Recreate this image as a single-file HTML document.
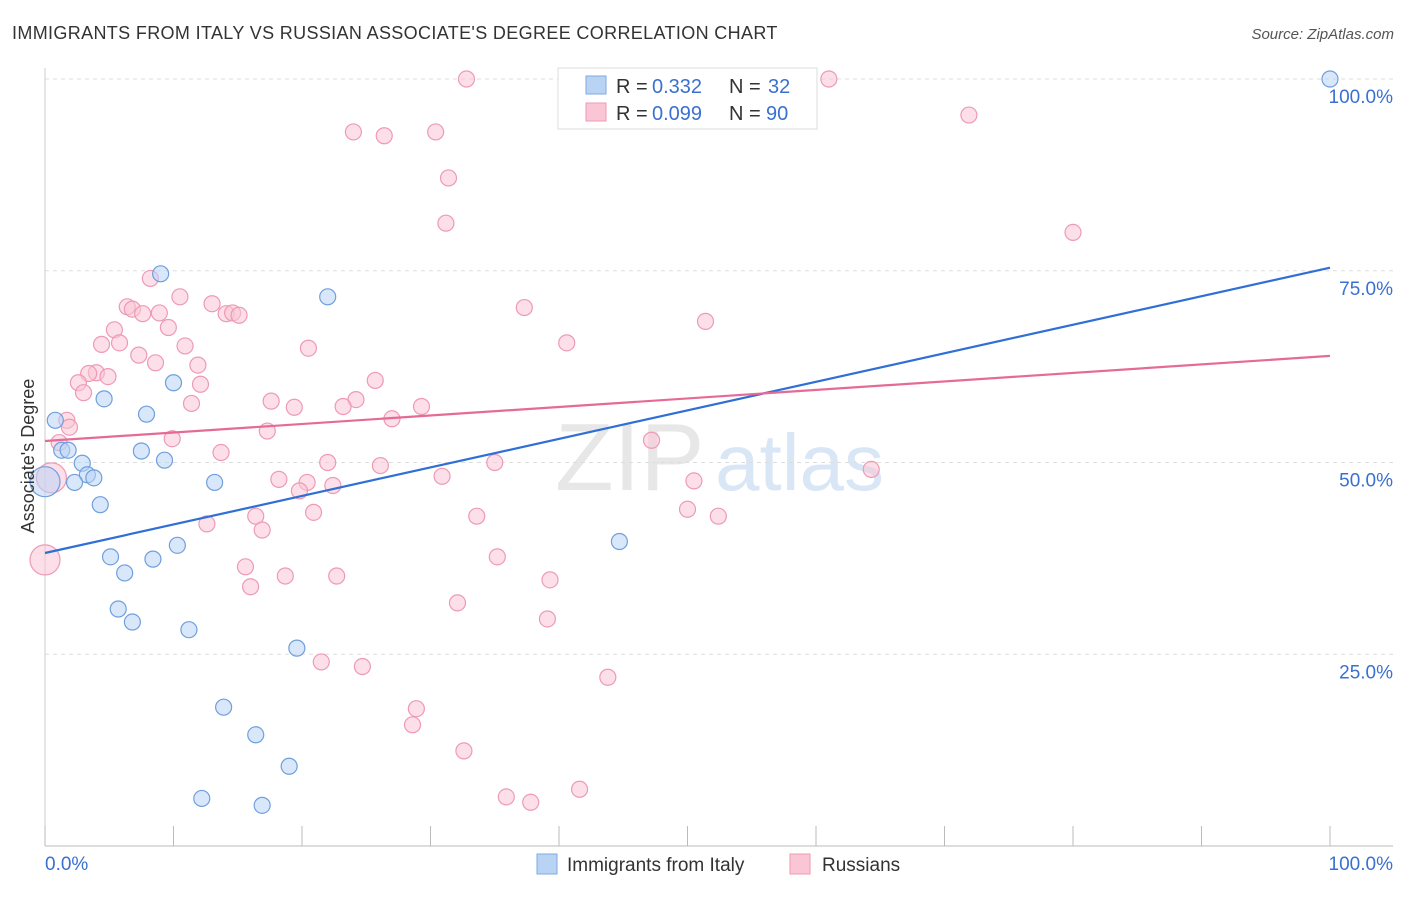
<!DOCTYPE html>
<html><head><meta charset="utf-8"><style>
body{margin:0;background:#fff;font-family:"Liberation Sans",sans-serif}
svg text{font-family:"Liberation Sans",sans-serif}
</style></head><body>
<svg id="chart" width="1406" height="892" viewBox="0 0 1406 892" xmlns="http://www.w3.org/2000/svg">
<text x="12" y="39" font-size="18" fill="#333" letter-spacing="0.35">IMMIGRANTS FROM ITALY VS RUSSIAN ASSOCIATE'S DEGREE CORRELATION CHART</text>
<text x="1394" y="39" font-size="15" fill="#555" text-anchor="end" font-style="italic">Source: ZipAtlas.com</text>
<g>
<text x="555" y="490" font-size="96" fill="#ddd" font-family="Liberation Serif" opacity="0.7">ZIP</text>
<text x="715" y="490" font-size="80" fill="#c9dcf3" opacity="0.7">atlas</text>
</g>
<g id="grid"></g>
<g id="axes"></g>
<g id="marks"></g>
<g>
<rect x="558" y="68" width="259" height="61" fill="#fff" stroke="#ddd"/>
<rect x="586" y="76" width="20" height="18" fill="#b9d3f5" stroke="#7fa9e0"/>
<rect x="586" y="103" width="20" height="18" fill="#fac5d5" stroke="#ee9ab5"/>
<text x="616" y="93" font-size="20" fill="#333">R =</text>
<text x="652" y="93" font-size="20" fill="#3a70d0">0.332</text>
<text x="729" y="93" font-size="20" fill="#333">N =</text>
<text x="768" y="93" font-size="20" fill="#3a70d0">32</text>
<text x="616" y="120" font-size="20" fill="#333">R =</text>
<text x="652" y="120" font-size="20" fill="#3a70d0">0.099</text>
<text x="729" y="120" font-size="20" fill="#333">N =</text>
<text x="766" y="120" font-size="20" fill="#3a70d0">90</text>
</g>
<g>
<rect x="537" y="854" width="20" height="20" fill="#b9d3f5" stroke="#7fa9e0"/>
<text x="567" y="871" font-size="19" fill="#333">Immigrants from Italy</text>
<rect x="790" y="854" width="20" height="20" fill="#fac5d5" stroke="#ee9ab5"/>
<text x="822" y="871" font-size="19" fill="#333">Russians</text>
</g>
<text transform="translate(34,456) rotate(-90)" font-size="18" fill="#333" text-anchor="middle">Associate's Degree</text>
</svg>
<script>
const yTicks=[25,50,75,100];
const yTickLabels=["25.0%","50.0%","75.0%","100.0%"];
const blueX=[0.8,1.3,1.8,2.9,3.3,3.8,2.3,4.3,4.6,7.9,9.0,10.0,7.5,9.3,13.2,5.1,6.2,8.4,10.3,5.7,6.8,11.2,13.9,16.4,19.6,19.0,12.2,16.9,22.0,44.7,100,0];
const blueY=[55.5,51.6,51.6,49.9,48.4,48.0,47.4,44.5,58.3,56.3,74.6,60.4,51.5,50.3,47.4,37.7,35.6,37.4,39.2,30.9,29.2,28.2,18.1,14.5,25.8,10.4,6.2,5.3,71.6,39.7,100,47.5];
const pinkX=[32.8,59.3,61.0,24.0,26.4,30.4,71.9,31.4,31.2,80.0,8.2,10.5,13.0,6.4,6.8,7.6,8.9,14.1,14.6,15.1,9.6,5.4,5.8,4.4,10.9,20.5,37.3,51.4,40.6,7.3,8.6,11.9,4.0,4.9,3.4,2.6,3.0,12.1,25.7,24.2,17.6,19.4,11.4,23.2,29.3,27.0,17.3,1.7,1.9,9.9,1.1,13.7,47.2,22.0,26.1,35.0,64.3,30.9,18.2,20.4,22.4,19.8,50.5,0.5,50.0,52.4,20.9,33.6,16.4,12.6,16.9,35.2,0,15.6,18.7,22.7,16.0,39.3,32.1,39.1,43.8,21.5,24.7,28.9,28.6,32.6,35.9,37.8,41.6];
const pinkY=[100,100,100,93.1,92.6,93.1,95.3,87.1,81.2,80.0,74.0,71.6,70.7,70.3,70.0,69.4,69.5,69.4,69.5,69.2,67.6,67.3,65.6,65.4,65.2,64.9,70.2,68.4,65.6,64.0,63.0,62.7,61.7,61.2,61.6,60.4,59.1,60.2,60.7,58.2,58.0,57.2,57.7,57.3,57.3,55.7,54.1,55.5,54.6,53.1,52.6,51.3,52.9,50.0,49.6,50.0,49.1,48.2,47.8,47.4,47.0,46.3,47.6,48.0,43.9,43.0,43.5,43.0,43.0,42.0,41.2,37.7,37.3,36.4,35.2,35.2,33.8,34.7,31.7,29.6,22.0,24.0,23.4,17.9,15.8,12.4,6.4,5.7,7.4];
const blueTrend=[38.2,75.4];
const pinkTrend=[52.8,63.9];
const X=v=>45+v*12.85, Y=v=>846-v*7.67;
const NS="http://www.w3.org/2000/svg";
function mk(tag,attrs,parent){const e=document.createElementNS(NS,tag);for(const k in attrs)e.setAttribute(k,attrs[k]);parent.appendChild(e);return e;}
const grid=document.getElementById('grid'),axes=document.getElementById('axes'),marks=document.getElementById('marks');
yTicks.forEach((t,i)=>{
 const l=mk('line',{x1:45,x2:1393,y1:Y(t),y2:Y(t),stroke:'#ddd','stroke-dasharray':'4,4'},grid);
 
 
 const tx=mk('text',{x:1393,y:Y(t)+24,'font-size':19,fill:'#3a70d0','text-anchor':'end'},axes);
 tx.textContent=yTickLabels[i];
 
 
});
const ax=mk('line',{x1:45,x2:1393,y1:846,y2:846,stroke:'#bbb'},axes);


const ay=mk('line',{x1:45,x2:45,y1:68,y2:846,stroke:'#ccc'},axes);


for(let i=0;i<=10;i++){const t=mk('line',{x1:X(i*10),x2:X(i*10),y1:826,y2:846,stroke:'#bbb'},axes);
 
 }
[["0.0%",45,"start"],["100.0%",1393,"end"]].forEach(a=>{const t=mk('text',{x:a[1],y:870,'font-size':19,fill:'#3a70d0','text-anchor':a[2]},axes);t.textContent=a[0];
 
 });
function pts(xs,ys,fill,stroke,name){xs.forEach((x,i)=>{const big=(x===0||x===0.5);
 const c=mk('circle',{cx:X(x),cy:Y(ys[i]),r:big?15:8,fill:fill,'fill-opacity':0.55,stroke:stroke,'stroke-width':1.2},marks);
 
 });}
pts(pinkX,pinkY,'#fac5d5','#ee9ab5','russians-point');
pts(blueX,blueY,'#b9d3f5','#6f9fdc','italy-point');
const bl=mk('line',{x1:X(0),y1:Y(blueTrend[0]),x2:X(100),y2:Y(blueTrend[1]),stroke:'#2f6fd6','stroke-width':2.2},marks);


const pl=mk('line',{x1:X(0),y1:Y(pinkTrend[0]),x2:X(100),y2:Y(pinkTrend[1]),stroke:'#e66a96','stroke-width':2.2},marks);


</script>
</body></html>
